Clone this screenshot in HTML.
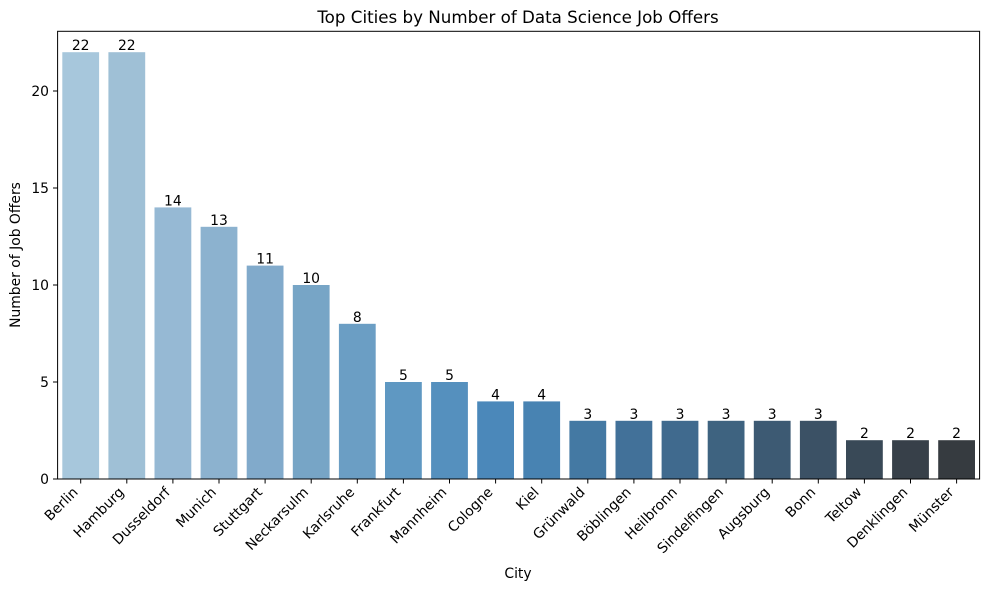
<!DOCTYPE html>
<html><head><meta charset="utf-8"><style>body{margin:0;background:#fff}svg{display:block}text{font-family:"DejaVu Sans","Liberation Sans",sans-serif;font-size:13.9px;fill:#000}</style></head>
<body>
<svg width="989" height="589" xmlns="http://www.w3.org/2000/svg">
<text x="518" y="23" text-anchor="middle" style="font-size:16.7px">Top Cities by Number of Data Science Job Offers</text>
<g id="bars"></g>
<rect x="57.6" y="31.3" width="922" height="447.7" fill="none" stroke="#000" stroke-width="1"/>
<g id="yt"></g>
<text x="518" y="578" text-anchor="middle">City</text>
<text transform="translate(20,255) rotate(-90)" text-anchor="middle">Number of Job Offers</text>
</svg>
<script>
var names=["Berlin","Hamburg","Dusseldorf","Munich","Stuttgart","Neckarsulm","Karlsruhe","Frankfurt","Mannheim","Cologne","Kiel","Grünwald","Böblingen","Heilbronn","Sindelfingen","Augsburg","Bonn","Teltow","Denklingen","Münster"];
var vals=[22,22,14,13,11,10,8,5,5,4,4,3,3,3,3,3,3,2,2,2];
var cols=["#a7c7dc","#9fc0d6","#96b9d4","#8cb2cf","#81aacb","#77a5c6","#6b9ec4","#5f98c2","#5590be","#4b88ba","#4883b2","#4479a3","#427199","#406a8e","#3e6380","#3d5a73","#3b5165","#394957","#374049","#363b40"];
var g=document.getElementById("bars"),s="";
var y0=479,k=19.4;
for(var i=0;i<20;i++){var cx=80.7+46.1*i,h=vals[i]*k;
s+='<rect x="'+(cx-18.4)+'" y="'+(y0-h)+'" width="36.8" height="'+h+'" fill="'+cols[i]+'"/>';
s+='<text x="'+cx+'" y="'+(y0-h-2)+'" text-anchor="middle">'+vals[i]+'</text>';
s+='<line x1="'+cx+'" y1="479" x2="'+cx+'" y2="483.5" stroke="#000"/>';
s+='<text transform="translate('+(cx-2)+',493) rotate(-45)" text-anchor="end">'+names[i]+'</text>';}
g.innerHTML=s;
var t="";for(var v=0;v<=20;v+=5){var y=y0-v*k;t+='<line x1="53" y1="'+y+'" x2="57.6" y2="'+y+'" stroke="#000"/><text x="49" y="'+(y+5)+'" text-anchor="end">'+v+'</text>';}
document.getElementById("yt").innerHTML=t;
</script>
</body></html>
